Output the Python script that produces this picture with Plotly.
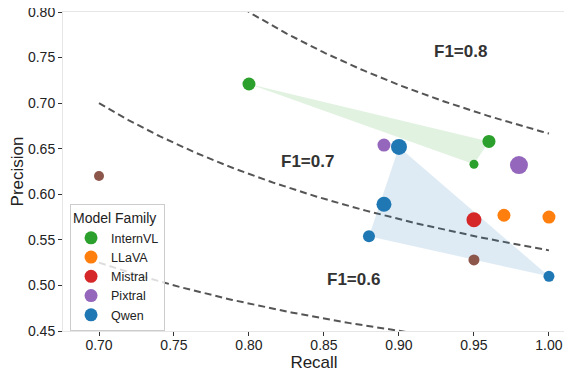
import numpy as np
import plotly.graph_objects as go

# point data
recall = [0.80, 0.96, 0.95, 0.97, 1.00, 0.95, 0.89, 0.98, 0.90, 0.89, 0.88, 1.00, 0.70, 0.95]
precision = [0.721, 0.658, 0.633, 0.577, 0.575, 0.572, 0.654, 0.632, 0.652, 0.589, 0.554, 0.510, 0.620, 0.528]
family = ['InternVL', 'InternVL', 'InternVL', 'LLaVA', 'LLaVA', 'Mistral', 'Pixtral', 'Pixtral',
          'Qwen', 'Qwen', 'Qwen', 'Qwen', 'Other', 'Other']
legend_families = ['InternVL', 'LLaVA', 'Mistral', 'Pixtral', 'Qwen']
hull_families = ['InternVL', 'Qwen']
f1_levels = [0.6, 0.7, 0.8]

# styling
marker_px = [13, 13, 9, 13, 13, 15, 13, 18, 16, 15, 12, 11, 10, 11]
colors = {'InternVL': '#2ca02c', 'LLaVA': '#ff7f0e', 'Mistral': '#d62728',
          'Pixtral': '#9467bd', 'Qwen': '#1f77b4', 'Other': '#8c564b'}
fills = {'InternVL': 'rgba(44,160,44,0.14)', 'Qwen': 'rgba(31,119,180,0.15)'}
label_pos = {0.8: (0.941, 0.757), 0.7: (0.839, 0.636), 0.6: (0.870, 0.507)}


def convex_hull(pts):
    pts = sorted(set(pts))
    if len(pts) < 3:
        return pts

    def cross(o, a, b):
        return (a[0] - o[0]) * (b[1] - o[1]) - (a[1] - o[1]) * (b[0] - o[0])
    lower, upper = [], []
    for p in pts:
        while len(lower) >= 2 and cross(lower[-2], lower[-1], p) <= 0:
            lower.pop()
        lower.append(p)
    for p in reversed(pts):
        while len(upper) >= 2 and cross(upper[-2], upper[-1], p) <= 0:
            upper.pop()
        upper.append(p)
    return lower[:-1] + upper[:-1]


fig = go.Figure()

# iso-F1 curves
r = np.linspace(0.7, 1.0, 200)
for f in f1_levels:
    p = f * r / (2 * r - f)
    fig.add_trace(go.Scatter(x=r, y=p, mode='lines', showlegend=False, hoverinfo='skip',
                             line=dict(color='#555555', width=2, dash='7px,4px')))
    fig.add_annotation(x=label_pos[f][0], y=label_pos[f][1], text='<b>F1=%.1f</b>' % f,
                       showarrow=False, font=dict(size=17, color='#333333'))

# shaded hulls
for fam in hull_families:
    pts = [(x, y) for x, y, g in zip(recall, precision, family) if g == fam]
    hull = convex_hull(pts)
    hull.append(hull[0])
    fig.add_trace(go.Scatter(x=[h[0] for h in hull], y=[h[1] for h in hull], mode='lines',
                             fill='toself', fillcolor=fills[fam], line=dict(width=0),
                             showlegend=False, hoverinfo='skip'))

# points
for fam in ['Other'] + legend_families:
    idx = [i for i, g in enumerate(family) if g == fam]
    fig.add_trace(go.Scatter(x=[recall[i] for i in idx], y=[precision[i] for i in idx],
                             mode='markers', showlegend=False, name=fam,
                             marker=dict(color=colors[fam], size=[marker_px[i] for i in idx],
                                         opacity=1, line=dict(width=0))))

# legend entries
for fam in legend_families:
    fig.add_trace(go.Scatter(x=[None], y=[None], mode='markers', name=fam,
                             marker=dict(color=colors[fam], size=13, opacity=1)))

axis_style = dict(showgrid=False, zeroline=False, showline=True, linecolor='#e6e6e6', linewidth=1,
                  mirror=True, ticks='outside', ticklen=4, tickcolor='#333333', automargin=False,
                  ticklabeloverflow='allow', tickfont=dict(size=14, color='#222222'))

# page body has an 8px margin, so the figure is 8px smaller each way
fig.update_layout(
    width=564, height=372,
    margin=dict(l=55, r=7, t=4, b=49),
    plot_bgcolor='white', paper_bgcolor='white',
    font=dict(family='Liberation Sans, Arial, sans-serif', color='#222222'),
    xaxis=dict(range=[0.676, 1.0107], tickvals=[0.70, 0.75, 0.80, 0.85, 0.90, 0.95, 1.00],
               tickformat='.2f', ticklabelstandoff=-3,
               title=dict(text='Recall', font=dict(size=17), standoff=4),
               **axis_style),
    yaxis=dict(range=[0.45, 0.80], tickvals=[0.45, 0.50, 0.55, 0.60, 0.65, 0.70, 0.75, 0.80],
               tickformat='.2f', title=dict(text='Precision', font=dict(size=17), standoff=11),
               **axis_style),
    legend=dict(title=dict(text='Model Family', font=dict(size=14)), font=dict(size=12.5),
                x=0.014, y=0.0, xanchor='left', yanchor='bottom',
                bgcolor='rgba(255,255,255,0.8)', bordercolor='#cccccc', borderwidth=1,
                tracegroupgap=0, itemwidth=30),
)

fig.write_html("out.html")
